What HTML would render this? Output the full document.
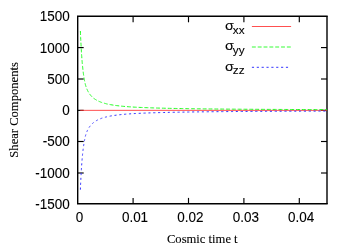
<!DOCTYPE html>
<html><head><meta charset="utf-8"><style>
html,body{margin:0;padding:0;background:#fff;}
body{width:350px;height:245px;overflow:hidden;}
svg{display:block;will-change:transform;}
text{font-family:"Liberation Sans",sans-serif;font-size:14.2px;fill:#000;stroke:#000;stroke-width:0.1px;}
.t{font-family:"Liberation Serif",serif;font-size:12.6px;}
</style></head><body>
<svg width="350" height="245" viewBox="0 0 350 245">
<rect width="350" height="245" fill="#fff"/>

<line x1="251.9" y1="26.5" x2="291.1" y2="26.5" stroke="#ff3030" stroke-width="0.85"/>
<line x1="251.9" y1="47.0" x2="291.1" y2="47.0" stroke="#08fc08" stroke-width="0.82" stroke-dasharray="3.89,1.94"/>
<line x1="251.9" y1="67.3" x2="289" y2="67.3" stroke="#3434ff" stroke-width="1.0" stroke-dasharray="2.15,2.71"/>
<text transform="translate(225.0,30.1) scale(1.05,1)" style="font-size:13.7px">σ</text>
<text transform="translate(232.8,33.800000000000004) scale(1.07,1)" style="font-size:11px">xx</text>
<text transform="translate(225.0,50.400000000000006) scale(1.05,1)" style="font-size:13.7px">σ</text>
<text transform="translate(232.8,54.10000000000001) scale(1.07,1)" style="font-size:11px">yy</text>
<text transform="translate(225.0,70.7) scale(1.05,1)" style="font-size:13.7px">σ</text>
<text transform="translate(232.8,74.4) scale(1.07,1)" style="font-size:11px">zz</text>
<g stroke="#000" stroke-linecap="butt"><line x1="77.0" y1="16.3" x2="327.7" y2="16.3" stroke-width="1.4"/><line x1="77.0" y1="203.8" x2="327.7" y2="203.8" stroke-width="1.55"/><line x1="77.7" y1="16.3" x2="77.7" y2="203.9" stroke-width="1.4"/><line x1="327.0" y1="16.3" x2="327.0" y2="203.9" stroke-width="1.4"/></g>
<line x1="133.1" y1="16.3" x2="133.1" y2="22.3" stroke="#000" stroke-width="1.15"/>
<line x1="133.1" y1="203.9" x2="133.1" y2="197.9" stroke="#000" stroke-width="1.15"/>
<line x1="188.5" y1="16.3" x2="188.5" y2="22.3" stroke="#000" stroke-width="1.15"/>
<line x1="188.5" y1="203.9" x2="188.5" y2="197.9" stroke="#000" stroke-width="1.15"/>
<line x1="243.9" y1="16.3" x2="243.9" y2="22.3" stroke="#000" stroke-width="1.15"/>
<line x1="243.9" y1="203.9" x2="243.9" y2="197.9" stroke="#000" stroke-width="1.15"/>
<line x1="299.3" y1="16.3" x2="299.3" y2="22.3" stroke="#000" stroke-width="1.15"/>
<line x1="299.3" y1="203.9" x2="299.3" y2="197.9" stroke="#000" stroke-width="1.15"/>
<line x1="77.7" y1="47.6" x2="83.7" y2="47.6" stroke="#000" stroke-width="1.15"/>
<line x1="327.0" y1="47.6" x2="321.0" y2="47.6" stroke="#000" stroke-width="1.15"/>
<line x1="77.7" y1="79.0" x2="83.7" y2="79.0" stroke="#000" stroke-width="1.15"/>
<line x1="327.0" y1="79.0" x2="321.0" y2="79.0" stroke="#000" stroke-width="1.15"/>
<line x1="77.7" y1="110.35" x2="83.7" y2="110.35" stroke="#000" stroke-width="1.15"/>
<line x1="327.0" y1="110.35" x2="321.0" y2="110.35" stroke="#000" stroke-width="1.15"/>
<line x1="77.7" y1="141.5" x2="83.7" y2="141.5" stroke="#000" stroke-width="1.15"/>
<line x1="327.0" y1="141.5" x2="321.0" y2="141.5" stroke="#000" stroke-width="1.15"/>
<line x1="77.7" y1="173.0" x2="83.7" y2="173.0" stroke="#000" stroke-width="1.15"/>
<line x1="327.0" y1="173.0" x2="321.0" y2="173.0" stroke="#000" stroke-width="1.15"/>
<line x1="80.19999999999999" y1="110.35" x2="327.0" y2="110.35" stroke="#ff3030" stroke-width="0.85"/>
<path d="M80.38,31.01 L80.47,33.31 L80.56,35.48 L80.65,37.52 L80.74,39.45 L80.84,41.27 L80.93,43.00 L81.02,44.64 L81.11,46.23 L81.20,47.97 L81.29,49.62 L81.38,51.19 L81.47,52.69 L81.56,54.11 L81.65,55.47 L81.75,56.76 L81.84,58.00 L81.93,59.18 L82.02,60.32 L82.11,61.40 L82.20,62.44 L82.29,63.44 L82.38,64.40 L82.47,65.33 L82.56,66.22 L82.66,67.12 L82.75,68.01 L82.84,68.87 L82.93,69.70 L83.02,70.50 L83.11,71.28 L83.20,72.02 L83.29,72.74 L83.38,73.44 L83.48,74.11 L83.57,74.76 L83.66,75.39 L83.75,75.99 L83.84,76.58 L83.93,77.16 L84.02,77.71 L84.11,78.25 L84.20,78.77 L84.29,79.28 L84.39,79.78 L84.48,80.27 L84.57,80.75 L84.66,81.22 L84.75,81.67 L84.84,82.11 L84.93,82.54 L85.02,82.95 L85.11,83.36 L85.20,83.75 L85.30,84.14 L85.39,84.51 L85.48,84.88 L85.57,85.23 L85.66,85.54 L85.75,85.83 L85.84,86.12 L85.93,86.39 L86.02,86.66 L86.12,86.93 L86.21,87.19 L86.30,87.44 L86.39,87.69 L86.48,87.93 L86.57,88.17 L86.66,88.40 L86.75,88.63 L86.84,88.85 L86.93,89.07 L87.03,89.29 L87.12,89.50 L87.21,89.70 L87.30,89.91 L87.39,90.11 L87.48,90.30 L87.57,90.49 L87.66,90.68 L87.75,90.86 L87.85,91.04 L87.94,91.22 L88.03,91.39 L88.12,91.56 L88.21,91.73 L88.30,91.89 L88.39,92.06 L88.48,92.21 L88.57,92.37 L88.66,92.52 L88.76,92.68 L88.85,92.82 L88.94,92.97 L89.03,93.11 L89.12,93.26 L89.21,93.39 L89.30,93.53 L89.39,93.67 L89.48,93.80 L89.57,93.93 L89.67,94.06 L89.76,94.19 L89.85,94.31 L89.94,94.43 L90.03,94.55 L90.12,94.67 L90.21,94.79 L90.30,94.91 L90.39,95.02 L90.49,95.13 L90.58,95.24 L90.67,95.35 L90.76,95.46 L90.85,95.57 L90.94,95.67 L91.03,95.77 L91.12,95.87 L91.21,95.97 L91.30,96.07 L91.40,96.17 L91.49,96.26 L91.58,96.36 L91.67,96.45 L91.76,96.54 L91.85,96.64 L91.94,96.73 L92.03,96.81 L92.12,96.90 L92.21,96.99 L92.31,97.07 L92.40,97.16 L92.49,97.24 L92.58,97.32 L92.67,97.40 L92.76,97.48 L92.85,97.56 L92.94,97.64 L93.03,97.72 L93.13,97.80 L93.22,97.87 L93.31,97.95 L93.40,98.02 L93.49,98.09 L93.58,98.16 L93.67,98.24 L93.76,98.31 L93.85,98.38 L93.94,98.44 L94.04,98.51 L94.13,98.58 L94.22,98.65 L94.31,98.71 L94.40,98.78 L94.49,98.84 L94.58,98.90 L94.67,98.97 L94.76,99.03 L94.85,99.09 L94.95,99.15 L95.04,99.21 L95.13,99.27 L95.22,99.33 L95.31,99.39 L95.40,99.45 L95.49,99.51 L95.58,99.56 L95.67,99.62 L95.77,99.68 L95.86,99.73 L95.95,99.79 L96.04,99.84 L96.13,99.90 L96.22,99.95 L96.31,100.01 L96.40,100.06 L96.49,100.11 L96.58,100.17 L96.68,100.22 L96.77,100.27 L96.86,100.32 L96.95,100.37 L97.04,100.42 L97.13,100.47 L97.22,100.52 L97.31,100.56 L97.40,100.61 L97.49,100.66 L97.59,100.71 L97.68,100.75 L97.77,100.80 L97.86,100.85 L97.95,100.89 L98.04,100.94 L98.13,100.98 L98.22,101.02 L98.31,101.07 L98.41,101.11 L98.50,101.15 L98.59,101.20 L98.68,101.24 L98.77,101.28 L98.86,101.32 L98.95,101.36 L99.04,101.40 L99.13,101.44 L99.22,101.48 L99.32,101.52 L99.41,101.56 L99.50,101.60 L99.59,101.64 L99.68,101.68 L99.77,101.71 L99.86,101.75 L99.95,101.79 L100.04,101.83 L100.13,101.86 L100.23,101.90 L100.32,101.93 L100.41,101.97 L100.50,102.01 L100.59,102.04 L100.68,102.08 L100.77,102.11 L100.86,102.14 L100.95,102.18 L101.05,102.21 L101.14,102.25 L101.23,102.28 L101.32,102.31 L101.41,102.35 L101.50,102.38 L101.59,102.41 L101.68,102.44 L101.77,102.47 L101.86,102.50 L101.96,102.54 L102.05,102.57 L102.14,102.60 L102.23,102.63 L102.32,102.66 L102.41,102.69 L102.50,102.72 L102.59,102.75 L102.68,102.78 L102.78,102.81 L102.87,102.83 L102.96,102.86 L103.05,102.89 L103.14,102.92 L103.23,102.95 L103.32,102.97 L103.41,103.00 L103.50,103.03 L103.59,103.06 L103.69,103.08 L103.78,103.11 L103.87,103.14 L103.96,103.16 L104.05,103.19 L104.14,103.21 L104.23,103.24 L104.32,103.27 L104.41,103.29 L104.50,103.32 L104.60,103.34 L104.69,103.37 L104.78,103.39 L104.87,103.41 L104.96,103.44 L105.05,103.46 L105.14,103.49 L105.23,103.51 L105.32,103.53 L105.42,103.56 L105.51,103.58 L105.60,103.60 L105.69,103.63 L105.78,103.65 L105.87,103.67 L105.96,103.70 L106.05,103.72 L106.14,103.74 L106.23,103.76 L106.33,103.78 L106.42,103.81 L106.51,103.83 L106.60,103.85 L106.69,103.87 L106.78,103.89 L106.87,103.91 L106.96,103.93 L107.05,103.96 L107.14,103.98 L107.24,104.00 L107.33,104.02 L107.42,104.04 L107.51,104.06 L107.60,104.08 L109.07,104.39 L110.54,104.67 L112.02,104.92 L113.49,105.16 L114.96,105.37 L116.43,105.57 L117.91,105.76 L119.38,105.93 L120.85,106.09 L122.32,106.23 L123.80,106.37 L125.27,106.50 L126.74,106.62 L128.21,106.73 L129.69,106.83 L131.16,106.93 L132.63,107.02 L134.10,107.11 L135.58,107.19 L137.05,107.26 L138.52,107.34 L139.99,107.41 L141.47,107.47 L142.94,107.54 L144.41,107.60 L145.88,107.66 L147.36,107.71 L148.83,107.77 L150.30,107.82 L151.77,107.87 L153.25,107.92 L154.72,107.96 L156.19,108.00 L157.66,108.05 L159.14,108.09 L160.61,108.13 L162.08,108.17 L163.55,108.20 L165.03,108.24 L166.50,108.27 L167.97,108.31 L169.44,108.34 L170.92,108.37 L172.39,108.40 L173.86,108.43 L175.33,108.46 L176.81,108.49 L178.28,108.51 L179.75,108.54 L181.22,108.56 L182.70,108.59 L184.17,108.61 L185.64,108.64 L187.11,108.66 L188.59,108.68 L190.06,108.70 L191.53,108.73 L193.00,108.75 L194.48,108.77 L195.95,108.79 L197.42,108.81 L198.89,108.82 L200.37,108.84 L201.84,108.86 L203.31,108.88 L204.78,108.90 L206.26,108.91 L207.73,108.93 L209.20,108.94 L210.67,108.96 L212.15,108.98 L213.62,108.99 L215.09,109.00 L216.56,109.02 L218.04,109.03 L219.51,109.05 L220.98,109.06 L222.45,109.07 L223.93,109.09 L225.40,109.10 L226.87,109.11 L228.34,109.12 L229.82,109.13 L231.29,109.15 L232.76,109.16 L234.23,109.17 L235.71,109.18 L237.18,109.19 L238.65,109.20 L240.12,109.21 L241.60,109.22 L243.07,109.23 L244.54,109.24 L246.01,109.25 L247.49,109.26 L248.96,109.27 L250.43,109.28 L251.90,109.29 L253.38,109.30 L254.85,109.31 L256.32,109.31 L257.79,109.32 L259.27,109.33 L260.74,109.34 L262.21,109.35 L263.68,109.36 L265.16,109.36 L266.63,109.37 L268.10,109.38 L269.57,109.39 L271.05,109.39 L272.52,109.40 L273.99,109.41 L275.46,109.42 L276.94,109.42 L278.41,109.43 L279.88,109.44 L281.35,109.44 L282.83,109.45 L284.30,109.45 L285.77,109.46 L287.24,109.47 L288.72,109.47 L290.19,109.48 L291.66,109.49 L293.13,109.49 L294.61,109.50 L296.08,109.50 L297.55,109.51 L299.02,109.51 L300.50,109.52 L301.97,109.53 L303.44,109.53 L304.91,109.54 L306.39,109.54 L307.86,109.55 L309.33,109.55 L310.80,109.56 L312.28,109.56 L313.75,109.57 L315.22,109.57 L316.69,109.58 L318.17,109.58 L319.64,109.59 L321.11,109.59 L322.58,109.59 L324.06,109.60 L325.53,109.60 L327.00,109.61" fill="none" stroke="#08fc08" stroke-width="0.88" stroke-dasharray="3.89,1.94"/>
<path d="M80.38,189.69 L80.47,187.39 L80.56,185.22 L80.65,183.18 L80.74,181.25 L80.84,179.43 L80.93,177.70 L81.02,176.06 L81.11,174.47 L81.20,172.73 L81.29,171.08 L81.38,169.51 L81.47,168.01 L81.56,166.59 L81.65,165.23 L81.75,163.94 L81.84,162.70 L81.93,161.52 L82.02,160.38 L82.11,159.30 L82.20,158.26 L82.29,157.26 L82.38,156.30 L82.47,155.37 L82.56,154.48 L82.66,153.58 L82.75,152.69 L82.84,151.83 L82.93,151.00 L83.02,150.20 L83.11,149.42 L83.20,148.68 L83.29,147.96 L83.38,147.26 L83.48,146.59 L83.57,145.94 L83.66,145.31 L83.75,144.71 L83.84,144.12 L83.93,143.54 L84.02,142.99 L84.11,142.45 L84.20,141.93 L84.29,141.42 L84.39,140.92 L84.48,140.43 L84.57,139.95 L84.66,139.48 L84.75,139.03 L84.84,138.59 L84.93,138.16 L85.02,137.75 L85.11,137.34 L85.20,136.95 L85.30,136.56 L85.39,136.19 L85.48,135.82 L85.57,135.47 L85.66,135.16 L85.75,134.87 L85.84,134.58 L85.93,134.31 L86.02,134.04 L86.12,133.77 L86.21,133.51 L86.30,133.26 L86.39,133.01 L86.48,132.77 L86.57,132.53 L86.66,132.30 L86.75,132.07 L86.84,131.85 L86.93,131.63 L87.03,131.41 L87.12,131.20 L87.21,131.00 L87.30,130.79 L87.39,130.59 L87.48,130.40 L87.57,130.21 L87.66,130.02 L87.75,129.84 L87.85,129.66 L87.94,129.48 L88.03,129.31 L88.12,129.14 L88.21,128.97 L88.30,128.81 L88.39,128.64 L88.48,128.49 L88.57,128.33 L88.66,128.18 L88.76,128.02 L88.85,127.88 L88.94,127.73 L89.03,127.59 L89.12,127.44 L89.21,127.31 L89.30,127.17 L89.39,127.03 L89.48,126.90 L89.57,126.77 L89.67,126.64 L89.76,126.51 L89.85,126.39 L89.94,126.27 L90.03,126.15 L90.12,126.03 L90.21,125.91 L90.30,125.79 L90.39,125.68 L90.49,125.57 L90.58,125.46 L90.67,125.35 L90.76,125.24 L90.85,125.13 L90.94,125.03 L91.03,124.93 L91.12,124.83 L91.21,124.73 L91.30,124.63 L91.40,124.53 L91.49,124.44 L91.58,124.34 L91.67,124.25 L91.76,124.16 L91.85,124.06 L91.94,123.97 L92.03,123.89 L92.12,123.80 L92.21,123.71 L92.31,123.63 L92.40,123.54 L92.49,123.46 L92.58,123.38 L92.67,123.30 L92.76,123.22 L92.85,123.14 L92.94,123.06 L93.03,122.98 L93.13,122.90 L93.22,122.83 L93.31,122.75 L93.40,122.68 L93.49,122.61 L93.58,122.54 L93.67,122.46 L93.76,122.39 L93.85,122.32 L93.94,122.26 L94.04,122.19 L94.13,122.12 L94.22,122.05 L94.31,121.99 L94.40,121.92 L94.49,121.86 L94.58,121.80 L94.67,121.73 L94.76,121.67 L94.85,121.61 L94.95,121.55 L95.04,121.49 L95.13,121.43 L95.22,121.37 L95.31,121.31 L95.40,121.25 L95.49,121.19 L95.58,121.14 L95.67,121.08 L95.77,121.02 L95.86,120.97 L95.95,120.91 L96.04,120.86 L96.13,120.80 L96.22,120.75 L96.31,120.69 L96.40,120.64 L96.49,120.59 L96.58,120.53 L96.68,120.48 L96.77,120.43 L96.86,120.38 L96.95,120.33 L97.04,120.28 L97.13,120.23 L97.22,120.18 L97.31,120.14 L97.40,120.09 L97.49,120.04 L97.59,119.99 L97.68,119.95 L97.77,119.90 L97.86,119.85 L97.95,119.81 L98.04,119.76 L98.13,119.72 L98.22,119.68 L98.31,119.63 L98.41,119.59 L98.50,119.55 L98.59,119.50 L98.68,119.46 L98.77,119.42 L98.86,119.38 L98.95,119.34 L99.04,119.30 L99.13,119.26 L99.22,119.22 L99.32,119.18 L99.41,119.14 L99.50,119.10 L99.59,119.06 L99.68,119.02 L99.77,118.99 L99.86,118.95 L99.95,118.91 L100.04,118.87 L100.13,118.84 L100.23,118.80 L100.32,118.77 L100.41,118.73 L100.50,118.69 L100.59,118.66 L100.68,118.62 L100.77,118.59 L100.86,118.56 L100.95,118.52 L101.05,118.49 L101.14,118.45 L101.23,118.42 L101.32,118.39 L101.41,118.35 L101.50,118.32 L101.59,118.29 L101.68,118.26 L101.77,118.23 L101.86,118.20 L101.96,118.16 L102.05,118.13 L102.14,118.10 L102.23,118.07 L102.32,118.04 L102.41,118.01 L102.50,117.98 L102.59,117.95 L102.68,117.92 L102.78,117.89 L102.87,117.87 L102.96,117.84 L103.05,117.81 L103.14,117.78 L103.23,117.75 L103.32,117.73 L103.41,117.70 L103.50,117.67 L103.59,117.64 L103.69,117.62 L103.78,117.59 L103.87,117.56 L103.96,117.54 L104.05,117.51 L104.14,117.49 L104.23,117.46 L104.32,117.43 L104.41,117.41 L104.50,117.38 L104.60,117.36 L104.69,117.33 L104.78,117.31 L104.87,117.29 L104.96,117.26 L105.05,117.24 L105.14,117.21 L105.23,117.19 L105.32,117.17 L105.42,117.14 L105.51,117.12 L105.60,117.10 L105.69,117.07 L105.78,117.05 L105.87,117.03 L105.96,117.00 L106.05,116.98 L106.14,116.96 L106.23,116.94 L106.33,116.92 L106.42,116.89 L106.51,116.87 L106.60,116.85 L106.69,116.83 L106.78,116.81 L106.87,116.79 L106.96,116.77 L107.05,116.74 L107.14,116.72 L107.24,116.70 L107.33,116.68 L107.42,116.66 L107.51,116.64 L107.60,116.62 L109.07,116.31 L110.54,116.03 L112.02,115.78 L113.49,115.54 L114.96,115.33 L116.43,115.13 L117.91,114.94 L119.38,114.77 L120.85,114.61 L122.32,114.47 L123.80,114.33 L125.27,114.20 L126.74,114.08 L128.21,113.97 L129.69,113.87 L131.16,113.77 L132.63,113.68 L134.10,113.59 L135.58,113.51 L137.05,113.44 L138.52,113.36 L139.99,113.29 L141.47,113.23 L142.94,113.16 L144.41,113.10 L145.88,113.04 L147.36,112.99 L148.83,112.93 L150.30,112.88 L151.77,112.83 L153.25,112.78 L154.72,112.74 L156.19,112.70 L157.66,112.65 L159.14,112.61 L160.61,112.57 L162.08,112.53 L163.55,112.50 L165.03,112.46 L166.50,112.43 L167.97,112.39 L169.44,112.36 L170.92,112.33 L172.39,112.30 L173.86,112.27 L175.33,112.24 L176.81,112.21 L178.28,112.19 L179.75,112.16 L181.22,112.14 L182.70,112.11 L184.17,112.09 L185.64,112.06 L187.11,112.04 L188.59,112.02 L190.06,112.00 L191.53,111.97 L193.00,111.95 L194.48,111.93 L195.95,111.91 L197.42,111.89 L198.89,111.88 L200.37,111.86 L201.84,111.84 L203.31,111.82 L204.78,111.80 L206.26,111.79 L207.73,111.77 L209.20,111.76 L210.67,111.74 L212.15,111.72 L213.62,111.71 L215.09,111.70 L216.56,111.68 L218.04,111.67 L219.51,111.65 L220.98,111.64 L222.45,111.63 L223.93,111.61 L225.40,111.60 L226.87,111.59 L228.34,111.58 L229.82,111.57 L231.29,111.55 L232.76,111.54 L234.23,111.53 L235.71,111.52 L237.18,111.51 L238.65,111.50 L240.12,111.49 L241.60,111.48 L243.07,111.47 L244.54,111.46 L246.01,111.45 L247.49,111.44 L248.96,111.43 L250.43,111.42 L251.90,111.41 L253.38,111.40 L254.85,111.39 L256.32,111.39 L257.79,111.38 L259.27,111.37 L260.74,111.36 L262.21,111.35 L263.68,111.34 L265.16,111.34 L266.63,111.33 L268.10,111.32 L269.57,111.31 L271.05,111.31 L272.52,111.30 L273.99,111.29 L275.46,111.28 L276.94,111.28 L278.41,111.27 L279.88,111.26 L281.35,111.26 L282.83,111.25 L284.30,111.25 L285.77,111.24 L287.24,111.23 L288.72,111.23 L290.19,111.22 L291.66,111.21 L293.13,111.21 L294.61,111.20 L296.08,111.20 L297.55,111.19 L299.02,111.19 L300.50,111.18 L301.97,111.17 L303.44,111.17 L304.91,111.16 L306.39,111.16 L307.86,111.15 L309.33,111.15 L310.80,111.14 L312.28,111.14 L313.75,111.13 L315.22,111.13 L316.69,111.12 L318.17,111.12 L319.64,111.11 L321.11,111.11 L322.58,111.11 L324.06,111.10 L325.53,111.10 L327.00,111.09" fill="none" stroke="#3434ff" stroke-width="1.0" stroke-dasharray="2.15,2.71"/>
<text transform="translate(69.8,20.9) scale(0.95,1)" text-anchor="end">1500</text>
<text transform="translate(69.8,52.800000000000004) scale(0.95,1)" text-anchor="end">1000</text>
<text transform="translate(69.8,83.6) scale(0.95,1)" text-anchor="end">500</text>
<text transform="translate(69.8,114.94999999999999) scale(0.95,1)" text-anchor="end">0</text>
<text transform="translate(69.8,146.1) scale(0.95,1)" text-anchor="end">-500</text>
<text transform="translate(69.8,177.6) scale(0.95,1)" text-anchor="end">-1000</text>
<text transform="translate(69.8,208.5) scale(0.95,1)" text-anchor="end">-1500</text>
<text transform="translate(79.60000000000001,222.1) scale(0.95,1)" text-anchor="middle">0</text>
<text transform="translate(135.0,222.1) scale(0.95,1)" text-anchor="middle">0.01</text>
<text transform="translate(190.4,222.1) scale(0.95,1)" text-anchor="middle">0.02</text>
<text transform="translate(245.8,222.1) scale(0.95,1)" text-anchor="middle">0.03</text>
<text transform="translate(301.2,222.1) scale(0.95,1)" text-anchor="middle">0.04</text>
<text class="t" x="202.3" y="242.6" text-anchor="middle">Cosmic time t</text>
<text class="t" transform="translate(17.7,109.9) rotate(-90)" text-anchor="middle">Shear Components</text>
</svg></body></html>
